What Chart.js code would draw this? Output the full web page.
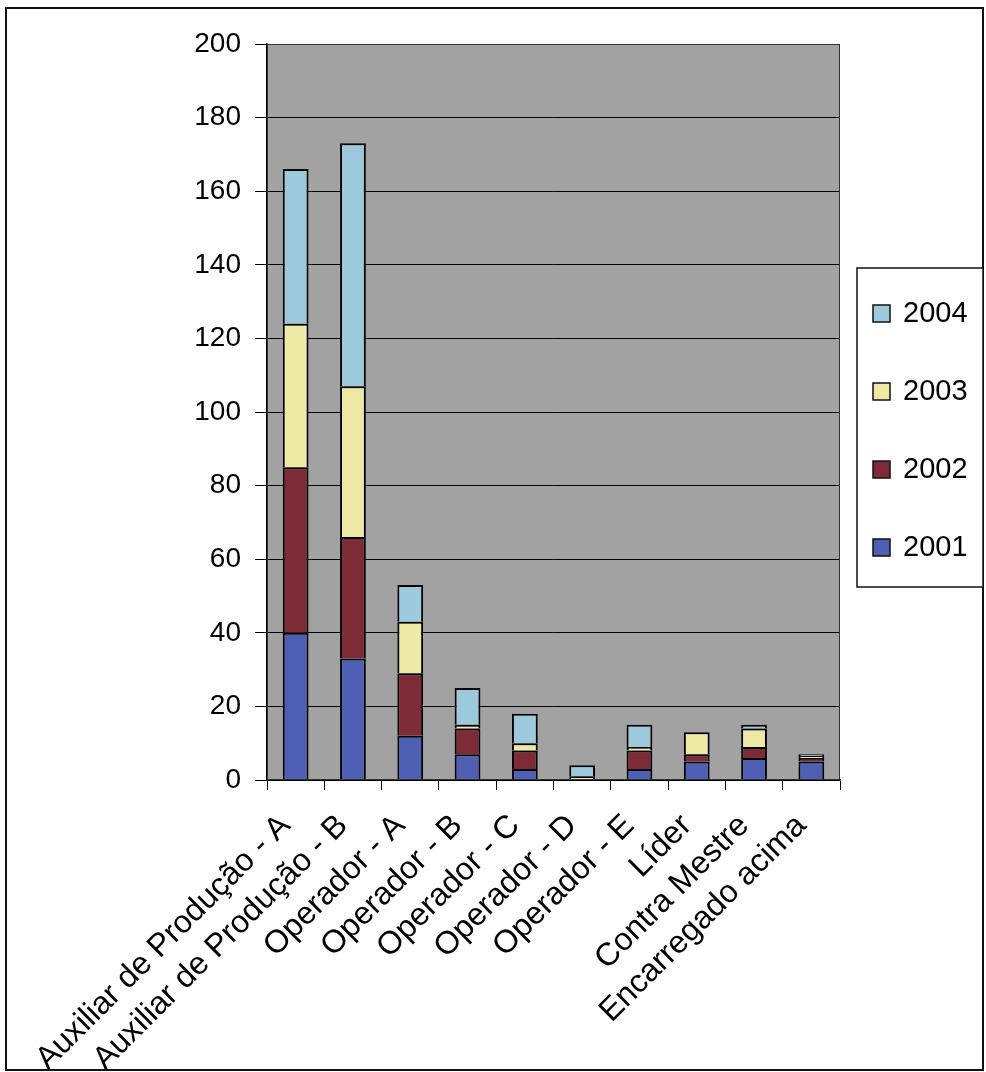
<!DOCTYPE html>
<html lang="pt">
<head>
    <meta charset="UTF-8">
    <title>Funcionários por cargo 2001-2004</title>
    <script src="https://cdn.jsdelivr.net/npm/chart.js"></script>
    <style>
        body, html {
            margin: 0;
            padding: 0;
            background: #fff;
        }
        #chart-container {
            width: 986px;
            height: 1072px;
        }
    </style>
</head>
<body>

<div id="chart-container">
    <canvas id="cargoChart" width="986" height="1072"></canvas>
</div>

<script>
    const categories = ['Auxiliar de Produção - A', 'Auxiliar de Produção - B', 'Operador - A', 'Operador - B',
        'Operador - C', 'Operador - D', 'Operador - E', 'Líder', 'Contra Mestre', 'Encarregado acima'];
    const years = ['2001', '2002', '2003', '2004'];
    const y2001 = [40, 33, 12, 7, 3, 0, 3, 5, 6, 5];
    const y2002 = [45, 33, 17, 7, 5, 0, 5, 2, 3, 1];
    const y2003 = [39, 41, 14, 1, 2, 1, 1, 6, 5, 0.5];
    const y2004 = [42, 66, 10, 10, 8, 3, 6, 0, 1, 0.5];
    const yMax = 200;
    const yStep = 20;

    const colors = ['#4f5fb3', '#7d2b37', '#efe9a6', '#9dc9dc'];
    const FONT = 'Liberation Sans';

    // gray plot area, outer frame and the boxed legend on the right
    const decor = {
        id: 'decor',
        beforeDraw(chart) {
            const {ctx, chartArea: a} = chart;
            ctx.save();
            ctx.fillStyle = '#fff';
            ctx.fillRect(0, 0, chart.width, chart.height);
            ctx.fillStyle = '#a2a2a2';
            ctx.fillRect(a.left, a.top, a.right - a.left, a.bottom - a.top);
            ctx.restore();
        },
        afterDraw(chart) {
            const {ctx, chartArea: a} = chart;
            ctx.save();
            ctx.strokeStyle = '#333';
            ctx.lineWidth = 1;
            ctx.strokeRect(a.left + 0.5, a.top + 0.5, a.right - a.left - 1, a.bottom - a.top - 1);

            ctx.strokeStyle = '#111';
            ctx.lineWidth = 2;
            ctx.strokeRect(6, 8, 977, 1062);

            // legend
            const lx = a.right + 17, ly = 268, lw = 983 - lx, lh = 319;
            ctx.fillStyle = '#fff';
            ctx.fillRect(lx, ly, lw, lh);
            ctx.lineWidth = 1.5;
            ctx.strokeStyle = '#111';
            ctx.strokeRect(lx, ly, lw, lh);
            ctx.font = '29px "' + FONT + '"';
            ctx.textBaseline = 'middle';
            ctx.textAlign = 'left';
            const sets = chart.data.datasets.slice().reverse();
            sets.forEach((ds, i) => {
                const cy = ly + 45 + i * 78;
                ctx.fillStyle = ds.backgroundColor;
                ctx.fillRect(lx + 16, cy - 8, 17, 17);
                ctx.lineWidth = 1.5;
                ctx.strokeRect(lx + 16, cy - 8, 17, 17);
                ctx.fillStyle = '#000';
                ctx.fillText(ds.label, lx + 46, cy + 1);
            });
            ctx.restore();
        }
    };

    const series = [y2001, y2002, y2003, y2004];
    const ctx = document.getElementById('cargoChart').getContext('2d');
    new Chart(ctx, {
        type: 'bar',
        data: {
            labels: categories,
            datasets: years.map((y, i) => ({
                label: y,
                data: series[i],
                backgroundColor: colors[i],
                borderColor: '#000',
                borderWidth: 2,
                barPercentage: 0.45,
                categoryPercentage: 1
            }))
        },
        options: {
            responsive: false,
            animation: false,
            layout: {padding: {top: 44, right: 146, left: 0, bottom: 0}},
            plugins: {
                legend: {display: false},
                tooltip: {enabled: false}
            },
            scales: {
                x: {
                    stacked: true,
                    afterFit: s => { s.height = 292; },
                    grid: {display: true, drawOnChartArea: false, color: '#000', tickLength: 10},
                    border: {color: '#000', width: 1.5},
                    ticks: {
                        color: '#000',
                        font: {family: FONT, size: 32},
                        maxRotation: 45,
                        minRotation: 45,
                        autoSkip: false,
                        padding: 17,
                        labelOffset: -10
                    }
                },
                y: {
                    stacked: true,
                    min: 0,
                    max: yMax,
                    afterFit: s => { s.width = 267; },
                    grid: {color: '#000', lineWidth: 1, tickLength: 12},
                    border: {color: '#000', width: 1.5},
                    ticks: {
                        stepSize: yStep,
                        color: '#000',
                        font: {family: FONT, size: 28},
                        padding: 14
                    }
                }
            }
        },
        plugins: [decor]
    });
</script>

</body>
</html>
